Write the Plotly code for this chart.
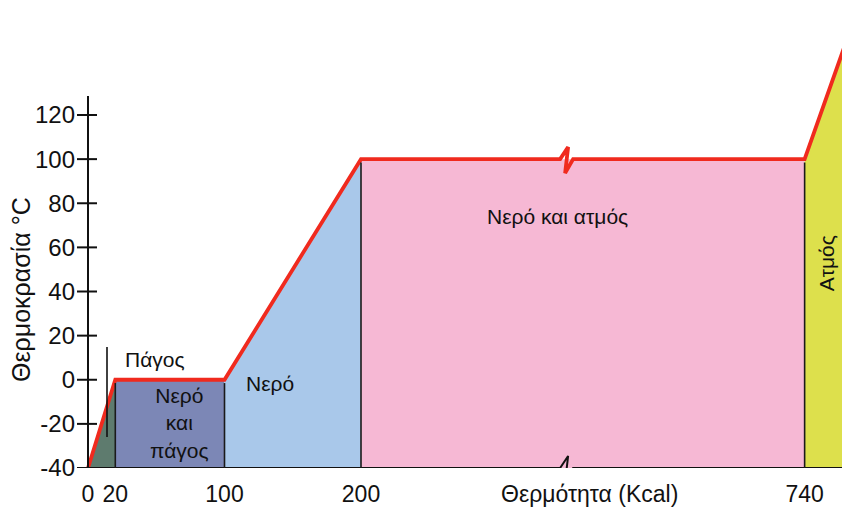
import plotly.graph_objects as go

# ---- data ----
heat = [0, 20, 100, 200, 740, 780]          # Kcal (break between 200 and 740)
temp = [-40, 0, 0, 100, 100, 170]           # °C
x_tick_vals = [0, 20, 100, 200, 740]
x_tick_text = ["0", "20", "100", "200", "740"]
y_tick_vals = [-40, -20, 0, 20, 40, 60, 80, 100, 120]
y_tick_text = ["-40", "-20", "0", "20", "40", "60", "80", "100", "120"]
region_colors = ["#5e7b6e", "#7c87b6", "#a9c8ea", "#f6b8d4", "#dde04c"]

GAP = 215  # compressed part of the axis after the break


def disp(q):
    return q if q <= 200 else q - GAP


PXX, PXY = 1.365, 2.206   # pixels per unit
FONT = "Liberation Sans, Arial, sans-serif"
xd = [disp(q) for q in heat]

fig = go.Figure()

# filled phase regions
for i in range(len(region_colors)):
    fig.add_trace(go.Scatter(
        x=[xd[i], xd[i], xd[i + 1], xd[i + 1], xd[i]],
        y=[-40, temp[i], temp[i + 1], -40, -40],
        fill="toself", fillcolor=region_colors[i], mode="lines",
        line=dict(width=0), hoverinfo="skip", showlegend=False))

# vertical dividers
for i in range(1, 5):
    fig.add_shape(type="line", x0=xd[i], x1=xd[i], y0=-40, y1=temp[i] - 1.5,
                  line=dict(color="#1a1a1a", width=1.6))

# break position on axis (display units)
brk = 351
zz_dx = [-7, 1, -2, 6]
zz_dy = [0, 12, -14, 0]

# red heating curve with break zigzag
rx, ry = [], []
for i, (a, b) in enumerate(zip(xd, temp)):
    rx.append(a); ry.append(b)
    if i == 3:
        for dx, dy in zip(zz_dx, zz_dy):
            rx.append(brk + dx / PXX); ry.append(100 + dy / PXY)
fig.add_trace(go.Scatter(x=rx, y=ry, mode="lines",
                         line=dict(color="#f02a1e", width=3.8),
                         hoverinfo="skip", showlegend=False))

# bottom axis line with zigzag
bx = [0] + [brk + dx / PXX for dx in zz_dx] + [600]
by = [-40] + [-40 + dy / PXY for dy in zz_dy] + [-40]
fig.add_trace(go.Scatter(x=bx, y=by, mode="lines",
                         line=dict(color="#111", width=2),
                         hoverinfo="skip", showlegend=False, cliponaxis=False))

# y axis line and crossing ticks
fig.add_shape(type="line", x0=0, x1=0, y0=-40, y1=128.6,
              line=dict(color="#111", width=2))
for v in y_tick_vals:
    fig.add_shape(type="line", x0=-11 / PXX, x1=9 / PXX, y0=v, y1=v,
                  line=dict(color="#111", width=2))

# marker line for "Πάγος"
fig.add_shape(type="line", x0=19 / PXX, x1=19 / PXX, y0=-26, y1=14.8,
              line=dict(color="#111", width=1.6))

# labels
lab = dict(showarrow=False, font=dict(family=FONT, size=21, color="#111"))
fig.add_annotation(x=49, y=9, text="Πάγος", **lab)
fig.add_annotation(x=67, y=-19.5, text="Νερό<br>και<br>πάγος", **lab)
fig.add_annotation(x=133, y=-1.5, text="Νερό", **lab)
fig.add_annotation(x=344, y=74, text="Νερό και ατμός", **lab)
fig.add_annotation(x=541, y=53, text="Ατμός", textangle=-90, **lab)
fig.add_annotation(x=(589 - 88) / PXX, xref="x", yref="paper", y=-26 / 460,
                   xanchor="center", yanchor="middle", text="Θερμότητα (Kcal)",
                   showarrow=False, font=dict(family=FONT, size=23, color="#111"))
fig.add_annotation(xref="paper", yref="paper", x=(13 - 68) / 774, y=(460 - 282) / 460,
                   xanchor="center", yanchor="middle",
                   text="Θερμοκρασία °C", textangle=-90,
                   showarrow=False, font=dict(family=FONT, size=25, color="#111"))

fig.update_layout(
    width=842, height=500,
    margin=dict(l=68, r=0, t=0, b=40, autoexpand=False),
    paper_bgcolor="white", plot_bgcolor="white",
    xaxis=dict(range=[-12 / PXX, (850 - 88) / PXX], showgrid=False, zeroline=False,
               showline=False, tickmode="array", automargin=False,
               tickvals=[disp(v) for v in x_tick_vals], ticktext=x_tick_text,
               ticks="outside", ticklen=5, tickcolor="rgba(0,0,0,0)",
               tickfont=dict(family=FONT, size=23, color="#111")),
    yaxis=dict(range=[-40, 120 + 107 / PXY], showgrid=False, zeroline=False,
               showline=False, tickmode="array", tickvals=y_tick_vals, automargin=False,
               ticktext=y_tick_text, ticks="",
               tickfont=dict(family=FONT, size=24, color="#111")),
    showlegend=False,
)

fig.write_html("out.html")
